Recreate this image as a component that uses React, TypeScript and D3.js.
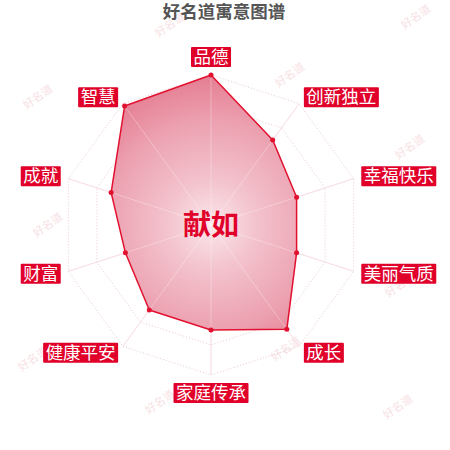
import React from 'react';
import * as d3 from 'd3';

const indicators = ['品德', '创新独立', '幸福快乐', '美丽气质', '成长', '家庭传承', '健康平安', '财富', '成就', '智慧'];
const scores = [100, 70, 60, 60, 86, 70, 70, 60, 70, 98];
const ringLevels = [20, 40, 60, 80, 100];
const maxScore = 100;
const title = '好名道寓意图谱';
const centerName = '献如';
const watermarks = [
  [172, 28], [418, 20], [292, 78], [412, 150], [40, 100], [50, 228], [402, 288],
  [35, 362], [162, 405], [288, 352], [400, 410],
];

const App = () => {
  const width = 450;
  const height = 450;
  const cx = 211;
  const cy = 225;
  const R = 150;
  const labelGap = 8;
  const n = indicators.length;

  const angle = d3.scaleLinear().domain([0, n]).range([0, 2 * Math.PI]);
  const r = d3.scaleLinear().domain([0, maxScore]).range([0, R]);

  const pt = (i: number, rad: number): [number, number] => [
    cx + rad * Math.sin(angle(i)),
    cy - rad * Math.cos(angle(i)),
  ];

  const closedLine = d3.line().curve(d3.curveLinearClosed);
  const ringPath = (v: number) => closedLine(indicators.map((_, i) => pt(i, r(v)))) as string;
  const areaPath = closedLine(scores.map((s, i) => pt(i, r(s)))) as string;

  const fs = 17.5;
  const pad = 2.5;
  const boxH = 20;

  return (
    <svg
      width={width}
      height={height}
      style={{ position: 'absolute', left: 0, top: 0, background: '#fff' }}
    >
      <defs>
        <radialGradient id="areaGrad" gradientUnits="userSpaceOnUse" cx={cx} cy={cy} r={R}>
          <stop offset="0" stopColor="#fbe6eb" />
          <stop offset="0.3" stopColor="#f3c3cd" />
          <stop offset="0.7" stopColor="#eca0b0" />
          <stop offset="1" stopColor="#e57d92" />
        </radialGradient>
      </defs>

      {watermarks.map(([x, y], i) => (
        <text
          key={'wm' + i}
          x={x}
          y={y}
          transform={`rotate(-35 ${x} ${y})`}
          textAnchor="middle"
          fontSize={11}
          fontFamily="'Noto Sans CJK SC', sans-serif"
          fill="#f7e2e5"
        >
          好名道
        </text>
      ))}

      <text
        x={224}
        y={18}
        textAnchor="middle"
        fontSize={17.5}
        fontWeight="bold"
        fontFamily="'Noto Sans CJK SC', sans-serif"
        fill="#555"
      >
        {title}
      </text>

      {ringLevels.map(v => (
        <path key={'ring' + v} d={ringPath(v)} fill="none" stroke="#e9c9ce" strokeWidth={1} strokeDasharray="1,2" />
      ))}
      {indicators.map((_, i) => {
        const [x, y] = pt(i, R);
        return <line key={'ax' + i} x1={cx} y1={cy} x2={x} y2={y} stroke="#f3d0d7" strokeWidth={1} />;
      })}

      <path d={areaPath} fill="url(#areaGrad)" stroke="none" />
      {indicators.map((_, i) => {
        const [x, y] = pt(i, R);
        return (
          <line key={'axo' + i} x1={cx} y1={cy} x2={x} y2={y} stroke="#fff" strokeOpacity={0.3} strokeWidth={1} />
        );
      })}
      <path d={areaPath} fill="none" stroke="#e2112f" strokeWidth={1.5} strokeLinejoin="round" />
      {scores.map((s, i) => {
        const [x, y] = pt(i, r(s));
        return <circle key={'pt' + i} cx={x} cy={y} r={2.5} fill="#e2112f" />;
      })}

      <text
        x={cx}
        y={cy + 10}
        textAnchor="middle"
        fontSize={28}
        fontWeight="bold"
        fontFamily="'Noto Sans CJK SC', sans-serif"
        fill="#e0002a"
      >
        {centerName}
      </text>

      {indicators.map((name, i) => {
        const [ax, ay] = pt(i, R + labelGap);
        const s = Math.sin(angle(i));
        const c = Math.cos(angle(i));
        const w = name.length * fs + pad * 2;
        let x0 = ax - w / 2;
        if (s > 0.01) x0 = ax;
        else if (s < -0.01) x0 = ax - w;
        let y0 = ay - boxH / 2;
        if (Math.abs(s) < 0.01) y0 = c > 0 ? ay - boxH : ay;
        return (
          <g key={'lab' + i}>
            <rect x={x0} y={y0} width={w} height={boxH} fill="#e0002a" rx={1} />
            <text
              x={x0 + w / 2}
              y={y0 + boxH / 2 + fs * 0.36}
              textAnchor="middle"
              fontSize={fs}
              fontFamily="'Noto Sans CJK SC', sans-serif"
              fill="#fff"
            >
              {name}
            </text>
          </g>
        );
      })}
    </svg>
  );
};

export default App;
